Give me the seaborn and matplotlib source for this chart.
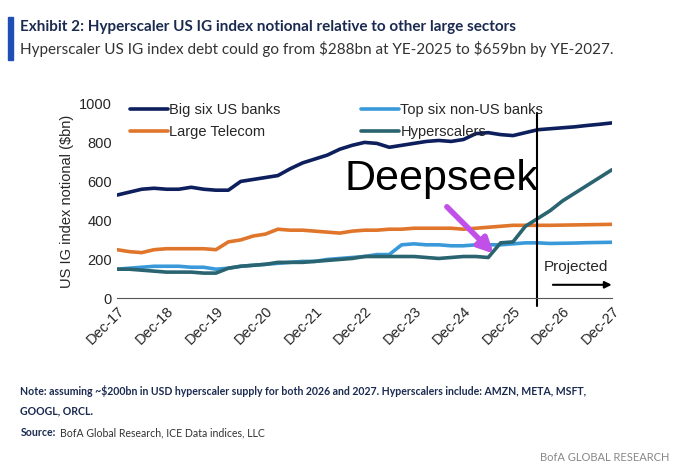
import numpy as np
import pandas as pd
import seaborn as sns
from matplotlib import pyplot as plt
from matplotlib.patches import Rectangle

# quarterly values, Dec-17 .. Dec-27
quarters = np.arange(41)
big_six_us = [530, 545, 560, 565, 560, 560, 570, 560, 555, 555, 600, 610, 620, 630, 665, 695,
              715, 735, 765, 785, 800, 795, 775, 785, 795, 805, 810, 805, 815, 845, 850, 840,
              835, 850, 865, 870, 875, 880, 887, 893, 900]
large_telecom = [250, 240, 235, 250, 255, 255, 255, 255, 250, 290, 300, 320, 330, 355, 350, 350,
                 345, 340, 335, 345, 350, 350, 355, 355, 360, 360, 360, 360, 355, 360, 365, 370,
                 375, 375, 375, 375, 376, 377, 378, 379, 380]
non_us_banks = [150, 155, 160, 165, 165, 165, 160, 160, 150, 155, 165, 170, 175, 180, 185, 190,
                190, 200, 205, 210, 215, 225, 225, 275, 280, 275, 275, 270, 270, 275, 275, 275,
                280, 285, 285, 282, 283, 284, 286, 287, 288]
hyperscalers = [150, 150, 145, 140, 135, 135, 135, 130, 130, 155, 165, 170, 175, 185, 185, 185,
                190, 195, 200, 205, 215, 215, 215, 215, 215, 210, 205, 210, 215, 215, 210, 285,
                290, 370, 410, 450, 500, 540, 580, 620, 660]
tick_labels = ['Dec-17', 'Dec-18', 'Dec-19', 'Dec-20', 'Dec-21', 'Dec-22',
               'Dec-23', 'Dec-24', 'Dec-25', 'Dec-26', 'Dec-27']

# legend fills column-wise, so this order gives the reference's row layout
series = {'Big six US banks': (big_six_us, '#0d1f5c'),
          'Large Telecom': (large_telecom, '#e0762b'),
          'Top six non-US banks': (non_us_banks, '#3a9ad9'),
          'Hyperscalers': (hyperscalers, '#2a6470')}
df = pd.DataFrame({k: v[0] for k, v in series.items()})
df['q'] = quarters
df = df.melt(id_vars='q', var_name='series', value_name='val')

sns.set_style('white')
plt.rcParams['font.family'] = ['Liberation Sans', 'DejaVu Sans']
plt.rcParams['text.parse_math'] = False
fig = plt.figure(figsize=(6.8, 4.7), dpi=100)
ax = fig.add_axes([0.172, 0.365, 0.728, 0.415])
sns.lineplot(data=df, x='q', y='val', hue='series', hue_order=list(series),
             palette={k: v[1] for k, v in series.items()}, linewidth=2.6, ax=ax)

ax.set_xlim(0, 40)
ax.set_ylim(0, 1000)
ax.set_yticks(range(0, 1001, 200))
ax.set_xticks(range(0, 41, 4))
ax.set_xticklabels(tick_labels, rotation=45, ha='right', rotation_mode='anchor', fontsize=10.5)
ax.tick_params(axis='y', labelsize=10.5, length=0)
ax.tick_params(axis='x', length=0, pad=4)
ax.set_xlabel('')
ax.set_ylabel('US IG index notional ($bn)', fontsize=10.5)
for s in ['top', 'right', 'left']:
    ax.spines[s].set_visible(False)
ax.spines['bottom'].set_color('#555555')
ax.legend(ncol=2, frameon=False, loc='upper left', bbox_to_anchor=(0.0, 1.07),
          fontsize=10.5, handlelength=2.6, columnspacing=5.5, labelspacing=0.55,
          handletextpad=0.1)

ax.axvline(33.9, ymin=-0.04, ymax=0.95, color='black', lw=1.5, clip_on=False)
ax.text(18.4, 555, 'Deepseek', fontsize=31, color='black')
ax.annotate('', xy=(30.6, 220), xytext=(26.5, 480),
            arrowprops=dict(arrowstyle='-|>', color='#c050e8', lw=4, mutation_scale=22))
ax.text(34.5, 140, 'Projected', fontsize=11)
ax.annotate('', xy=(40.2, 70), xytext=(35, 70),
            arrowprops=dict(arrowstyle='-|>', color='black', lw=1.5), annotation_clip=False)

fig.patches.append(Rectangle((0.012, 0.873), 0.007, 0.09, transform=fig.transFigure,
                             color='#1f4fb4'))
fig.text(0.03, 0.935, 'Exhibit 2: Hyperscaler US IG index notional relative to other large sectors',
         fontsize=11, fontweight='bold', color='#1a2a50', family=['Lato', 'DejaVu Sans'])
fig.text(0.03, 0.885, 'Hyperscaler US IG index debt could go from $288bn at YE-2025 to $659bn by YE-2027.',
         fontsize=11, color='#333333', family=['Lato', 'DejaVu Sans'])
fig.text(0.03, 0.16, 'Note: assuming ~$200bn in USD hyperscaler supply for both 2026 and 2027. Hyperscalers include: AMZN, META, MSFT,',
         fontsize=7.6, fontweight='bold', color='#1a2a50', family=['Lato', 'DejaVu Sans'])
fig.text(0.03, 0.118, 'GOOGL, ORCL.', fontsize=7.6, fontweight='bold', color='#1a2a50',
         family=['Lato', 'DejaVu Sans'])
fig.text(0.03, 0.072, 'Source:', fontsize=7.6, fontweight='bold', color='#1a2a50',
         family=['Lato', 'DejaVu Sans'])
fig.text(0.088, 0.072, 'BofA Global Research, ICE Data indices, LLC', fontsize=7.6, color='#333333',
         family=['Lato', 'DejaVu Sans'])
fig.text(0.985, 0.02, 'BofA GLOBAL RESEARCH', fontsize=8, color='#888888', ha='right',
         family=['Lato', 'DejaVu Sans'])

fig.savefig('out.png', dpi=100)
